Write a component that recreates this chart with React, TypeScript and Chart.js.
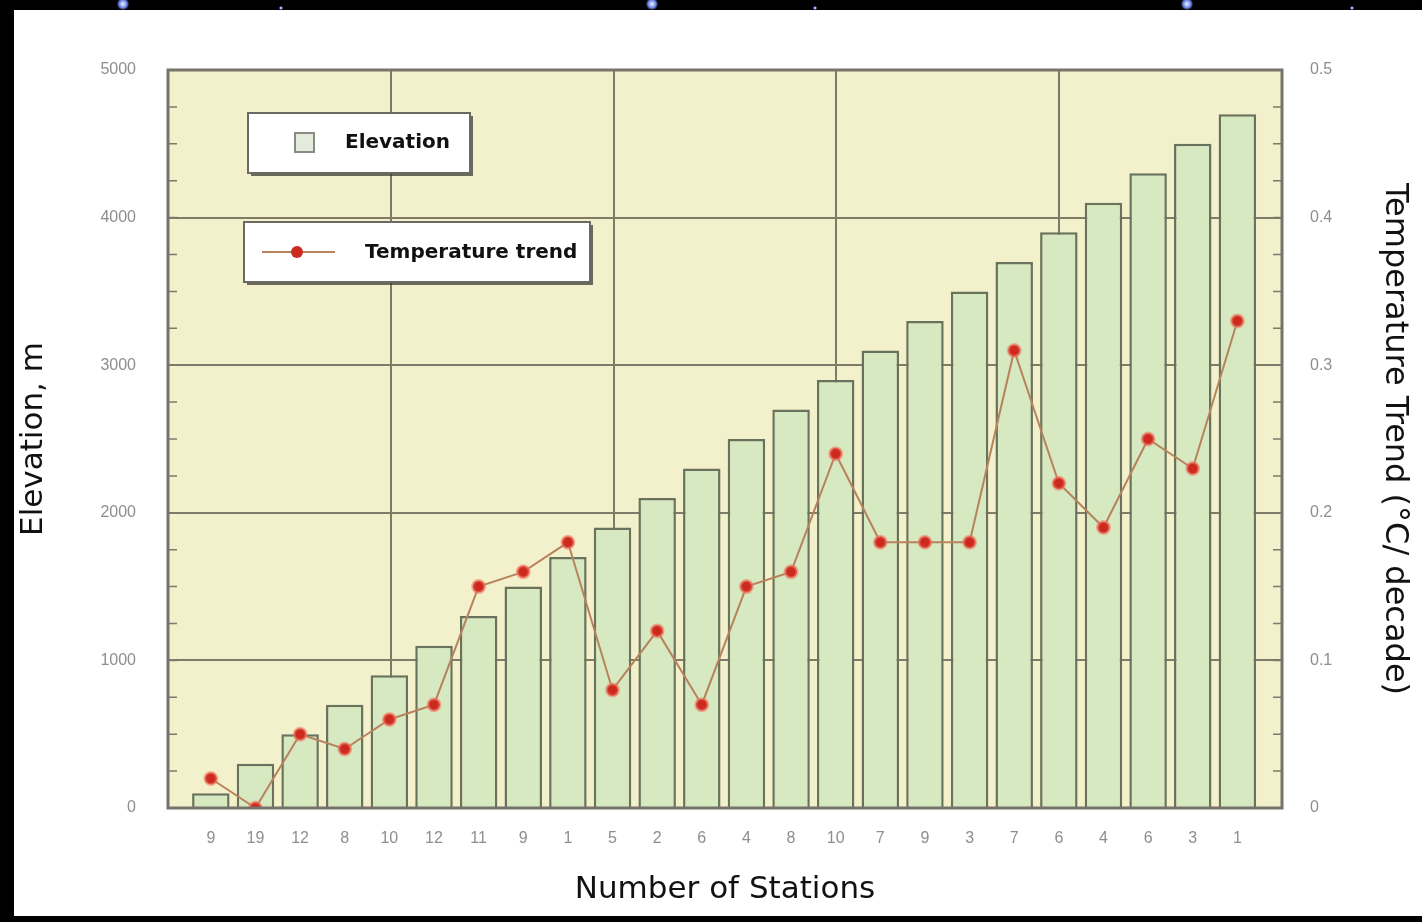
import React, { useEffect, useRef } from "react";
import { Chart, registerables } from "chart.js";

Chart.register(...registerables);

// Number of stations in each 200 m elevation band
const stationCounts = ["9", "19", "12", "8", "10", "12", "11", "9", "1", "5", "2", "6", "4", "8", "10", "7", "9", "3", "7", "6", "4", "6", "3", "1"];
// Mean elevation of each band (m)
const elevation = [100, 300, 500, 700, 900, 1100, 1300, 1500, 1700, 1900, 2100, 2300, 2500, 2700, 2900, 3100, 3300, 3500, 3700, 3900, 4100, 4300, 4500, 4700];
// Temperature trend of each band (°C / decade)
const tempTrend = [0.02, 0, 0.05, 0.04, 0.06, 0.07, 0.15, 0.16, 0.18, 0.08, 0.12, 0.07, 0.15, 0.16, 0.24, 0.18, 0.18, 0.18, 0.31, 0.22, 0.19, 0.25, 0.23, 0.33];

const elevationLabel = "Elevation";
const trendLabel = "Temperature trend";

const PLOT_BG = "#f3f1cb";
const GRID = "#7e7c68";
const BAR_FILL = "#d6e9c0";
const BAR_EDGE = "#68725c";
const LINE = "#b8825c";
const DOT = "#cc2a1e";
const TICK = "#8e8e8e";

const plotBackground = {
  id: "plotBackground",
  beforeDraw(chart: any) {
    const { ctx, chartArea: a } = chart;
    ctx.save();
    ctx.fillStyle = PLOT_BG;
    ctx.fillRect(a.left, a.top, a.right - a.left, a.bottom - a.top);
    ctx.restore();
  },
};

const frameAndMinorTicks = {
  id: "frameAndMinorTicks",
  afterDatasetsDraw(chart: any) {
    const { ctx, chartArea: a, scales } = chart;
    ctx.save();
    ctx.strokeStyle = "#7d796c";
    ctx.lineWidth = 1.5;
    ctx.beginPath();
    for (let v = 0; v <= 5000; v += 250) {
      const y = scales.y.getPixelForValue(v);
      ctx.moveTo(a.left, y);
      ctx.lineTo(a.left + 9, y);
    }
    for (let k = 0; k <= 20; k++) {
      const y = scales.y2.getPixelForValue(k * 0.025);
      ctx.moveTo(a.right, y);
      ctx.lineTo(a.right - 9, y);
    }
    ctx.stroke();
    ctx.strokeStyle = "#77736a";
    ctx.lineWidth = 3;
    ctx.strokeRect(a.left, a.top, a.right - a.left, a.bottom - a.top);
    ctx.restore();
  },
};

function drawBox(ctx: CanvasRenderingContext2D, x: number, y: number, w: number, h: number) {
  ctx.fillStyle = "rgba(60,60,55,0.75)";
  ctx.fillRect(x + 3, y + 3, w, h);
  ctx.fillStyle = "#ffffff";
  ctx.fillRect(x, y, w, h);
  ctx.strokeStyle = "#6a6a62";
  ctx.lineWidth = 2;
  ctx.strokeRect(x, y, w, h);
}

const boxedLegend = {
  id: "boxedLegend",
  afterDraw(chart: any) {
    const { ctx } = chart;
    const ds = chart.data.datasets;
    ctx.save();
    ctx.font = "bold 20px 'DejaVu Sans'";
    ctx.textBaseline = "middle";

    // bar legend box
    drawBox(ctx, 234, 103, 222, 60);
    ctx.fillStyle = "#e4ebdc";
    ctx.fillRect(281, 123, 19, 19);
    ctx.strokeStyle = "#8a8a84";
    ctx.lineWidth = 2;
    ctx.strokeRect(281, 123, 19, 19);
    ctx.fillStyle = "#111";
    ctx.fillText(ds[1].label, 331, 133);

    // line legend box
    drawBox(ctx, 230, 212, 346, 60);
    ctx.strokeStyle = LINE;
    ctx.lineWidth = 2;
    ctx.beginPath();
    ctx.moveTo(248, 242);
    ctx.lineTo(321, 242);
    ctx.stroke();
    ctx.beginPath();
    ctx.arc(283, 242, 6, 0, Math.PI * 2);
    ctx.fillStyle = DOT;
    ctx.fill();
    ctx.fillStyle = "#111";
    ctx.fillText(ds[0].label, 351, 243);
    ctx.restore();
  },
};

function TrendChart() {
  const ref = useRef<HTMLCanvasElement>(null);

  useEffect(() => {
    if (!ref.current) return;
    const tickFont = { family: "'Liberation Sans', Arial, sans-serif", size: 16 };
    const titleFamily = "'DejaVu Sans', sans-serif";
    const chart = new Chart(ref.current, {
      type: "bar",
      data: {
        datasets: [
          {
            type: "line",
            label: trendLabel,
            data: tempTrend.map((v, i) => ({ x: i, y: v })),
            yAxisID: "y2",
            xAxisID: "x",
            borderColor: LINE,
            borderWidth: 2,
            pointRadius: 6,
            pointBackgroundColor: DOT,
            pointBorderColor: "rgba(240,120,100,0.55)",
            pointBorderWidth: 3,
            tension: 0,
            order: 0,
          },
          {
            type: "bar",
            label: elevationLabel,
            data: elevation.map((v, i) => ({ x: i, y: v })),
            yAxisID: "y",
            xAxisID: "x",
            backgroundColor: BAR_FILL,
            borderColor: BAR_EDGE,
            borderWidth: 2.5,
            barPercentage: 0.84,
            categoryPercentage: 1,
            order: 1,
          },
        ],
      } as any,
      options: {
        responsive: false,
        animation: false,
        layout: { padding: { top: 60, left: 0, right: 0, bottom: 0 } },
        plugins: { legend: { display: false }, tooltip: { enabled: false } },
        scales: {
          x: {
            type: "linear",
            position: "bottom",
            offset: false,
            min: -0.96,
            max: 24,
            grid: { display: false, drawTicks: false, offset: false },
            border: { display: false },
            ticks: {
              stepSize: 1,
              includeBounds: false,
              autoSkip: false,
              maxRotation: 0,
              padding: 21,
              color: TICK,
              font: tickFont,
              callback: (v: any) => (Number.isInteger(v) && v >= 0 && v < stationCounts.length ? stationCounts[v] : ""),
            },
            title: {
              display: true,
              text: "Number of Stations",
              color: "#111",
              font: { family: titleFamily, size: 31 },
              padding: { top: 0, bottom: 7 },
            },
            afterFit: (s: any) => {
              s.height = 108;
            },
          } as any,
          x2: {
            type: "linear",
            position: "top",
            offset: false,
            min: 0,
            max: 5,
            grid: { color: GRID, lineWidth: 2, drawTicks: false, offset: false },
            border: { display: false },
            ticks: { display: false, stepSize: 1 },
            afterFit: (s: any) => {
              s.height = 0;
            },
          } as any,
          y: {
            type: "linear",
            position: "left",
            min: 0,
            max: 5000,
            grid: { color: GRID, lineWidth: 2, drawTicks: false },
            border: { display: false },
            ticks: {
              stepSize: 1000,
              padding: 32,
              color: TICK,
              font: tickFont,
              callback: (v: any) => String(v),
            },
            title: {
              display: true,
              text: "Elevation, m",
              color: "#111",
              font: { family: titleFamily, size: 31 },
              padding: { top: 1, bottom: 0 },
            },
            afterFit: (s: any) => {
              s.width = 154;
            },
          } as any,
          y2: {
            type: "linear",
            position: "right",
            min: 0,
            max: 0.5,
            grid: { display: false, drawTicks: false },
            border: { display: false },
            ticks: {
              stepSize: 0.1,
              padding: 28,
              color: TICK,
              font: tickFont,
              callback: (v: any) => (v === 0 ? "0" : Number(v).toFixed(1)),
            },
            title: {
              display: true,
              text: "Temperature Trend (°C/ decade)",
              color: "#111",
              font: { family: titleFamily, size: 32 },
              padding: { top: 8, bottom: 0 },
            },
            afterFit: (s: any) => {
              s.width = 140;
            },
          } as any,
        },
      },
      plugins: [plotBackground, frameAndMinorTicks, boxedLegend],
    });
    return () => chart.destroy();
  }, []);

  return <canvas ref={ref} width={1408} height={906} style={{ display: "block" }} />;
}

const starSpots = [
  { x: 123, big: true },
  { x: 281, big: false },
  { x: 652, big: true },
  { x: 815, big: false },
  { x: 1187, big: true },
  { x: 1352, big: false },
];

export default function App() {
  return (
    <div
      style={{
        position: "absolute",
        left: 0,
        top: 0,
        width: 1422,
        height: 922,
        background: "#000",
        overflow: "hidden",
      }}
    >
      {starSpots.map((s, i) => (
        <div
          key={i}
          style={{
            position: "absolute",
            left: s.x - (s.big ? 6 : 2),
            top: s.big ? -2 : 6,
            width: s.big ? 12 : 4,
            height: s.big ? 12 : 4,
            borderRadius: "50%",
            background: "radial-gradient(circle, #eef2ff 0%, #6f86e8 45%, rgba(0,0,40,0) 75%)",
          }}
        />
      ))}
      <div
        style={{
          position: "absolute",
          left: 14,
          top: 10,
          width: 1408,
          height: 906,
          background: "#fff",
        }}
      >
        <TrendChart />
      </div>
    </div>
  );
}
